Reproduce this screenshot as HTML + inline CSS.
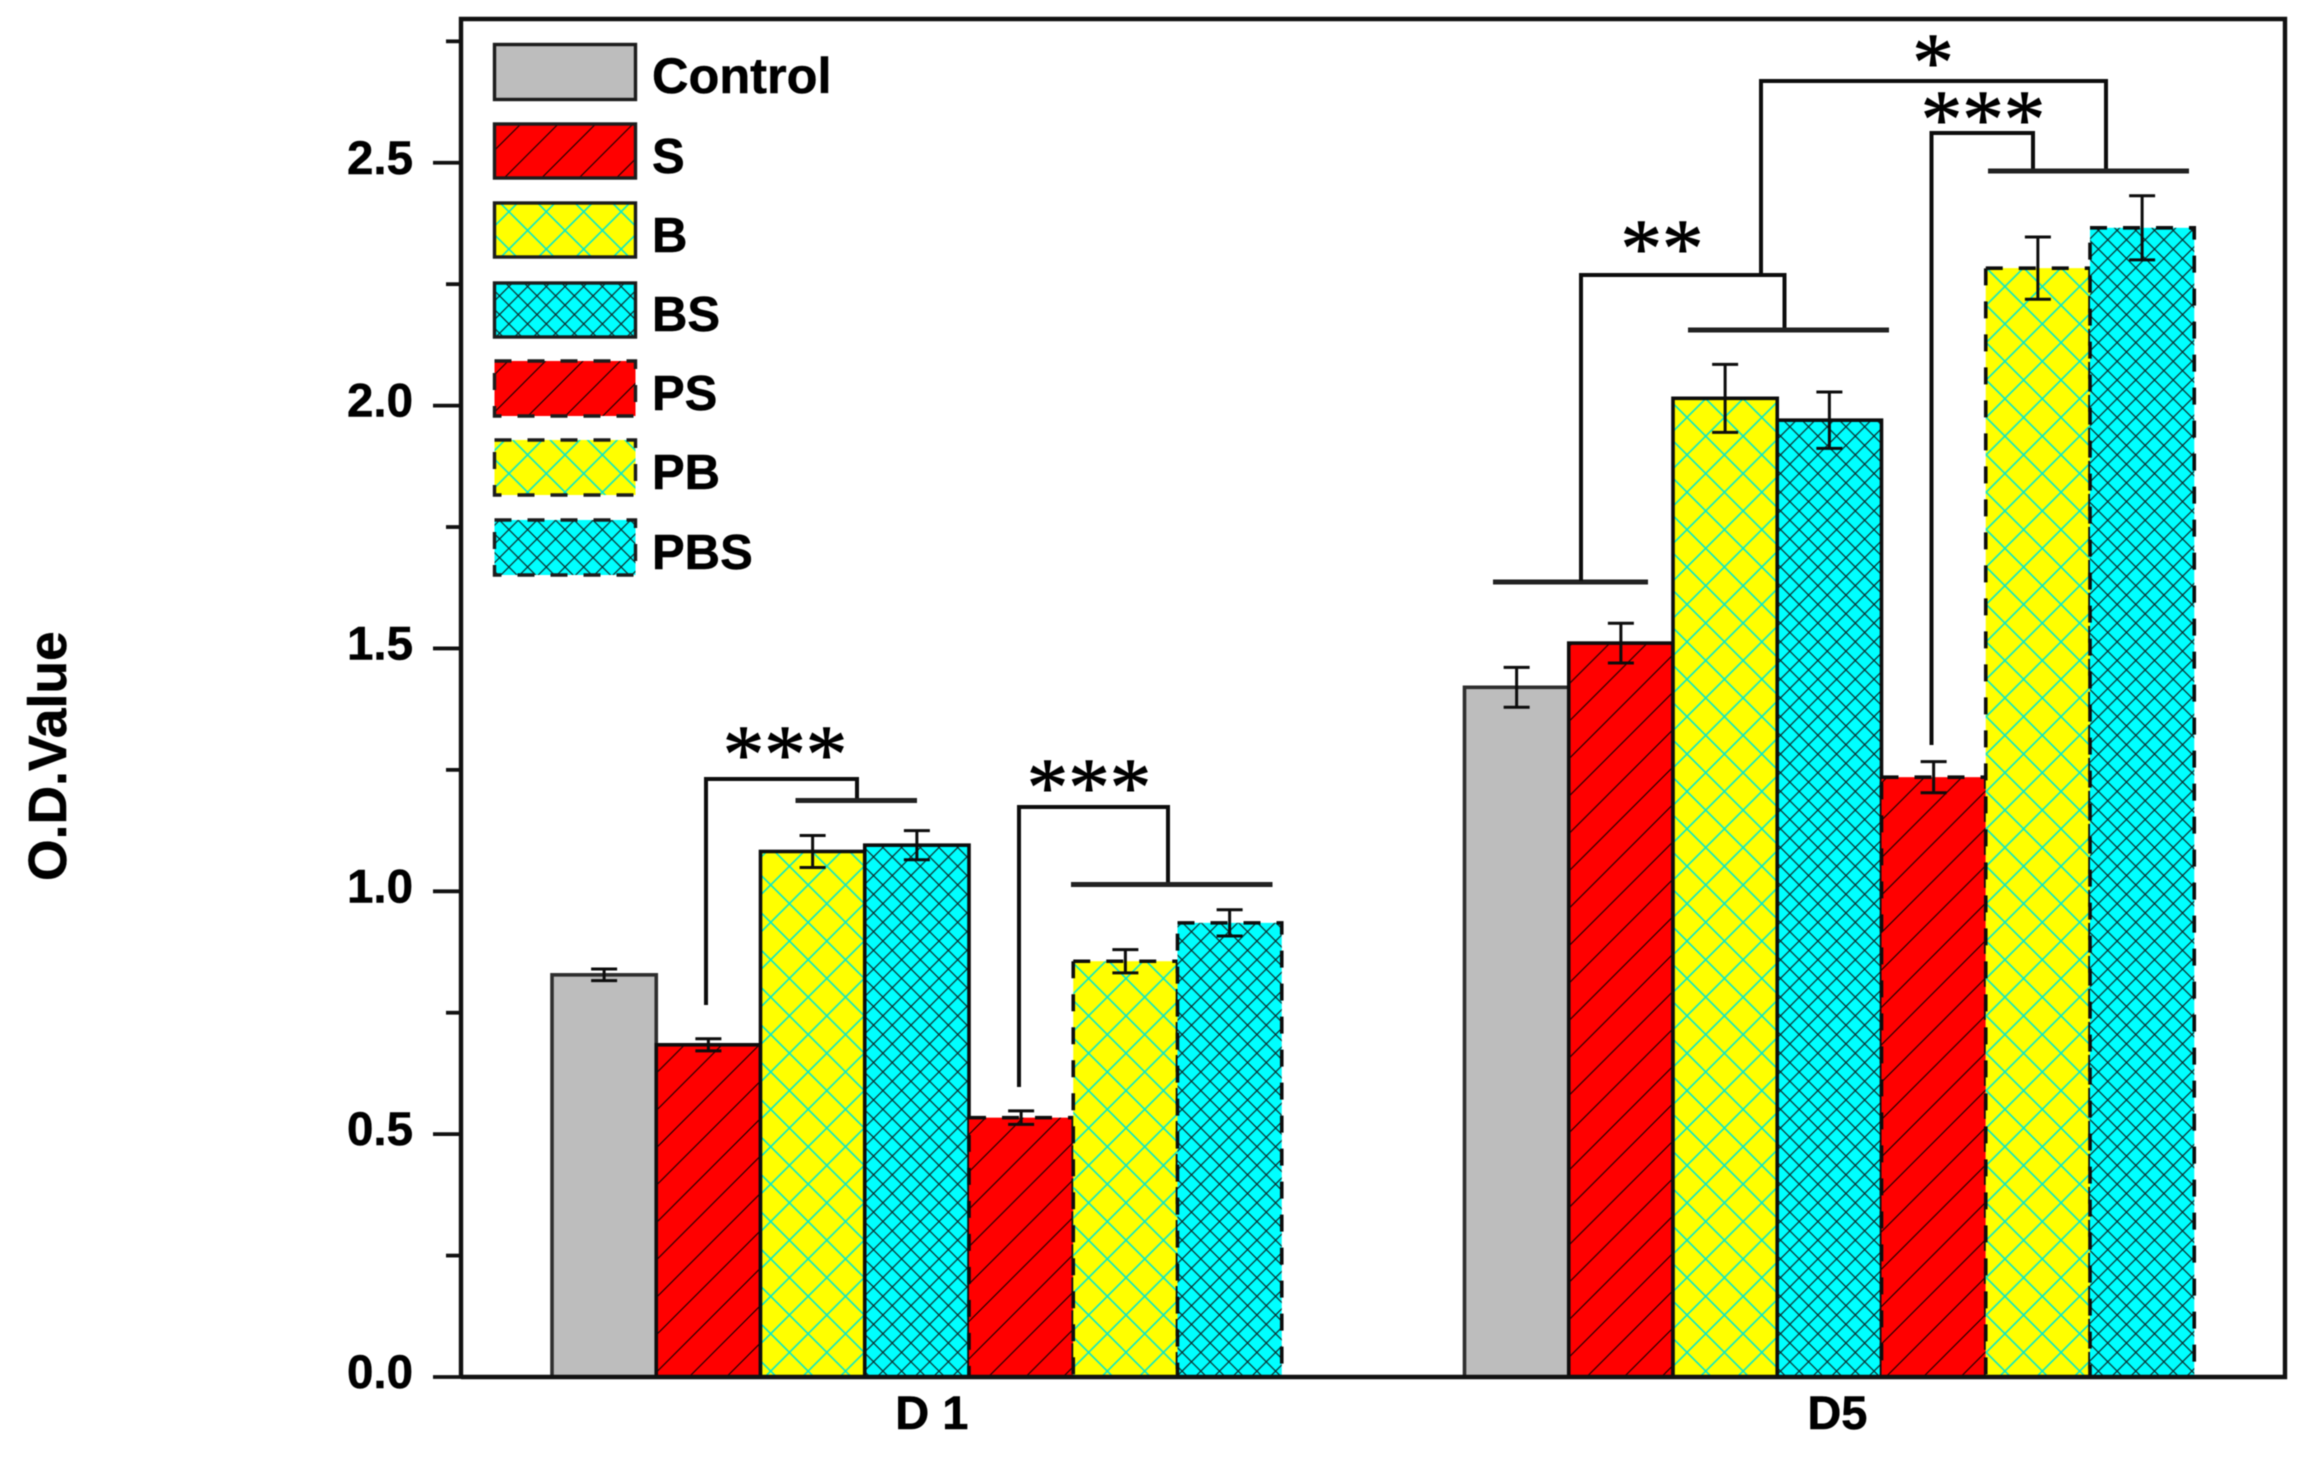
<!DOCTYPE html>
<html lang="en">
<head>
<meta charset="utf-8">
<title>O.D. Value bar chart</title>
<style>
html,body{margin:0;padding:0;background:#fff;width:2313px;height:1462px;overflow:hidden}
svg{display:block;filter:blur(.55px)}
text{font-family:"Liberation Sans",sans-serif;font-weight:bold;fill:#000;stroke:#000;stroke-width:.5px}
.star{font-family:"Liberation Serif",serif;font-weight:normal;font-size:83px;text-anchor:middle;fill:#000;stroke:#000;stroke-width:.9px}
.leg{font-size:49px}
.brk{fill:none;stroke:#0d0d0d;stroke-width:4;stroke-linejoin:miter}
.hbar{stroke:#222;stroke-width:5;fill:none}
</style>
</head>
<body>
<svg id="chart" xmlns="http://www.w3.org/2000/svg" width="2313" height="1462" viewBox="0 0 2313 1462">
  <defs>
    <pattern id="hatch-s" patternUnits="userSpaceOnUse" width="37.4" height="37.4" patternTransform="translate(0 9)">
      <path d="M-2 2L2 -2M0 37.4L37.4 0M35.4 39.4L39.4 35.4" stroke="#000" stroke-width="1" fill="none"/>
    </pattern>
    <pattern id="hatch-b" patternUnits="userSpaceOnUse" width="37.4" height="37.4" patternTransform="translate(4 6)">
      <path d="M-2 2L2 -2M0 37.4L37.4 0M35.4 39.4L39.4 35.4M-2 35.4L2 39.4M0 0L37.4 37.4M35.4 -2L39.4 2" stroke="#00e6d0" stroke-width="1.5" fill="none"/>
    </pattern>
    <pattern id="hatch-bs" patternUnits="userSpaceOnUse" width="18.7" height="18.7" patternTransform="translate(4 6)">
      <path d="M-2 2L2 -2M0 18.7L18.7 0M16.7 20.7L20.7 16.7M-2 16.7L2 20.7M0 0L18.7 18.7M16.7 -2L20.7 2" stroke="#0a2a2a" stroke-width="1.2" fill="none"/>
    </pattern>
  </defs>

  <rect x="0" y="0" width="2313" height="1462" fill="#fff"/>
  <g id="bars"></g>
  <g id="errors"></g>
  <g id="axes"></g>

  <text transform="translate(66 881) rotate(-90)" style="font-size:53.5px">O.D.Value</text>

  <g>
    <g>
      <rect x="494.5" y="44.5" width="141" height="55" fill="#bdbdbd" stroke="#1c1c1c" stroke-width="3.4"/>
      <text class="leg" x="652" y="93" style="font-size:50.5px">Control</text>
    </g>
    <g>
      <rect x="494.5" y="124" width="141" height="54" fill="#ff0000"/>
      <rect x="494.5" y="124" width="141" height="54" fill="url(#hatch-s)" stroke="#1c1c1c" stroke-width="3.4"/>
      <text class="leg" x="652" y="173">S</text>
    </g>
    <g>
      <rect x="494.5" y="203" width="141" height="54" fill="#ffff00"/>
      <rect x="494.5" y="203" width="141" height="54" fill="url(#hatch-b)" stroke="#1c1c1c" stroke-width="3.4"/>
      <text class="leg" x="652" y="252">B</text>
    </g>
    <g>
      <rect x="494.5" y="283" width="141" height="54" fill="#00ffff"/>
      <rect x="494.5" y="283" width="141" height="54" fill="url(#hatch-bs)" stroke="#1c1c1c" stroke-width="3.4"/>
      <text class="leg" x="652" y="331">BS</text>
    </g>
    <g>
      <rect x="494.5" y="361" width="141" height="55" fill="#ff0000"/>
      <rect x="494.5" y="361" width="141" height="55" fill="url(#hatch-s)" stroke="#1c1c1c" stroke-width="3.4" stroke-dasharray="17 16"/>
      <text class="leg" x="652" y="410">PS</text>
    </g>
    <g>
      <rect x="494.5" y="440" width="141" height="55" fill="#ffff00"/>
      <rect x="494.5" y="440" width="141" height="55" fill="url(#hatch-b)" stroke="#1c1c1c" stroke-width="3.4" stroke-dasharray="17 16"/>
      <text class="leg" x="652" y="489">PB</text>
    </g>
    <g>
      <rect x="494.5" y="520" width="141" height="55" fill="#00ffff"/>
      <rect x="494.5" y="520" width="141" height="55" fill="url(#hatch-bs)" stroke="#1c1c1c" stroke-width="3.4" stroke-dasharray="17 16"/>
      <text class="leg" x="652" y="569">PBS</text>
    </g>
  </g>

  <g>
    <path class="brk" d="M706 1005V779H857V800"/>
    <path class="hbar" d="M795.5 800.5H917"/>
    <text class="star" x="785" y="782">***</text>
  </g>
  <g>
    <path class="brk" d="M1019 1087V807H1168V884"/>
    <path class="hbar" d="M1071 884.5H1272.5"/>
    <text class="star" x="1089" y="815">***</text>
  </g>
  <g>
    <path class="hbar" d="M1493 582H1648"/>
    <path class="brk" d="M1581 581V275H1784.5V328"/>
    <path class="hbar" d="M1688 330H1889"/>
    <text class="star" x="1662" y="276">**</text>
  </g>
  <g>
    <path class="brk" d="M1761 275V81H2106V170"/>
    <text class="star" x="1933" y="90">*</text>
  </g>
  <g>
    <path class="brk" d="M1931.5 745V133H2033V170"/>
    <path class="hbar" d="M1988 171H2189"/>
    <text class="star" x="1983" y="147">***</text>
  </g>
</svg>

<script>
const categories = ['D 1', 'D5'];
const seriesNames = ['Control', 'S', 'B', 'BS', 'PS', 'PB', 'PBS'];
const valuesD1 = [0.828, 0.684, 1.082, 1.095, 0.534, 0.856, 0.935];
const valuesD5 = [1.42, 1.511, 2.015, 1.97, 1.235, 2.283, 2.366];
const errorsD1 = [0.012, 0.0125, 0.033, 0.03, 0.014, 0.024, 0.027];
const errorsD5 = [0.041, 0.041, 0.07, 0.058, 0.032, 0.064, 0.066];
const majorTicks = [0, 0.5, 1, 1.5, 2, 2.5];
const majorTickLabels = ['0.0', '0.5', '1.0', '1.5', '2.0', '2.5'];
const minorTicks = [0.25, 0.75, 1.25, 1.75, 2.25, 2.75];

const seriesFill = ['#bdbdbd', '#ff0000', '#ffff00', '#00ffff', '#ff0000', '#ffff00', '#00ffff'];
const seriesHatch = [null, 'hatch-s', 'hatch-b', 'hatch-bs', 'hatch-s', 'hatch-b', 'hatch-bs'];
const seriesDash = [false, false, false, false, true, true, true];

const NS = 'http://www.w3.org/2000/svg';
const AXIS_BOTTOM = 1377, AXIS_LEFT = 461, AXIS_RIGHT = 2285, AXIS_TOP = 19;
const UNIT = 485.7, GROUP_START = 552, GROUP_STEP = 912.5, BAR_W = 104.25, CAP = 13;
const labelShift = [15, 8];

function y(v) { return AXIS_BOTTOM - v * UNIT; }
function x(groupIndex, seriesIndex) { return GROUP_START + groupIndex * GROUP_STEP + seriesIndex * BAR_W; }
function make(tag, attrs, parent) {
  const el = document.createElementNS(NS, tag);
  for (const k in attrs) el.setAttribute(k, attrs[k]);
  parent.appendChild(el);
  return el;
}

const barsG = document.getElementById('bars');
const errG = document.getElementById('errors');
const axesG = document.getElementById('axes');
const groupValues = [valuesD1, valuesD5];
const groupErrors = [errorsD1, errorsD5];

groupValues.forEach(function (vals, g) {
  vals.forEach(function (v, s) {
    const left = x(g, s), top = y(v), h = AXIS_BOTTOM - top;
    const group = make('g', {}, barsG);
    
    
    make('rect', { x: left, y: top, width: BAR_W, height: h, fill: seriesFill[s] }, group);
    const attrs = {
      x: left, y: top, width: BAR_W, height: h,
      fill: seriesHatch[s] ? 'url(#' + seriesHatch[s] + ')' : 'none',
      stroke: s === 0 ? '#2e2e2e' : '#0d0d0d',
      'stroke-width': 3.6
    };
    if (seriesDash[s]) attrs['stroke-dasharray'] = '17 16';
    make('rect', attrs, group);

    const cx = left + BAR_W / 2, e = groupErrors[g][s];
    const err = make('path', {
      d: 'M' + cx + ' ' + y(v + e) + 'V' + y(v - e) +
         'M' + (cx - CAP) + ' ' + y(v + e) + 'H' + (cx + CAP) +
         'M' + (cx - CAP) + ' ' + y(v - e) + 'H' + (cx + CAP),
      stroke: '#0d0d0d', 'stroke-width': 3, fill: 'none'
    }, errG);
    
    
  });
});

const frame = make('path', {
  d: 'M' + AXIS_LEFT + ' ' + AXIS_BOTTOM + 'V' + AXIS_TOP + 'H' + AXIS_RIGHT + 'V' + AXIS_BOTTOM + 'H' + AXIS_LEFT,
  fill: 'none', stroke: '#111', 'stroke-width': 4.4
}, axesG);



majorTicks.forEach(function (t, i) {
  const tick = make('line', { x1: 433, x2: AXIS_LEFT, y1: y(t), y2: y(t), stroke: '#111', 'stroke-width': 3.8 }, axesG);
  
  
  const label = make('text', { x: 413, y: y(t) + 11, 'text-anchor': 'end', 'font-size': 47.5 }, axesG);
  label.textContent = majorTickLabels[i];
  
  
});
minorTicks.forEach(function (t) {
  const tick = make('line', { x1: 446, x2: AXIS_LEFT, y1: y(t), y2: y(t), stroke: '#111', 'stroke-width': 3.8 }, axesG);
  
  
});
categories.forEach(function (c, g) {
  const cx = x(g, 3.5) + labelShift[g];
  const label = make('text', { x: cx, y: 1429, 'text-anchor': 'middle', 'font-size': 47 }, axesG);
  label.textContent = c;
  
  
});
</script>
</body>
</html>
